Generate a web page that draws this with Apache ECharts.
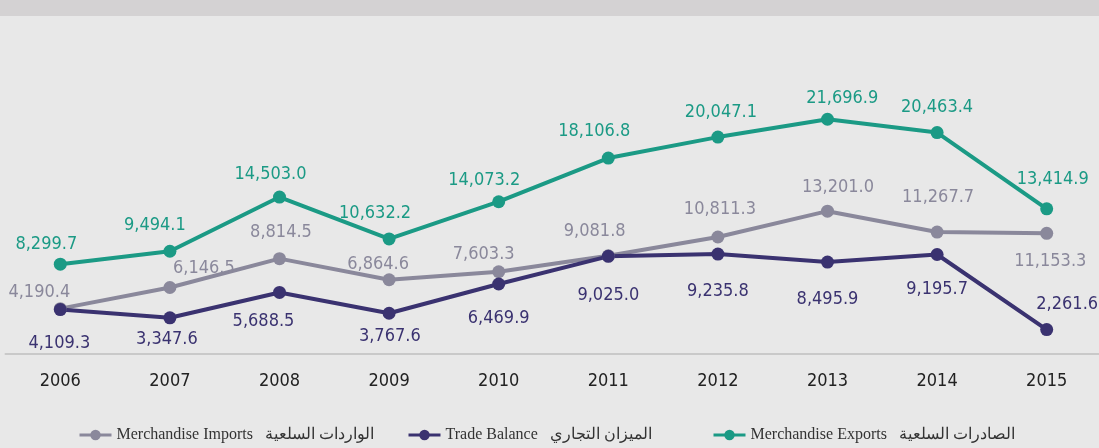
<!DOCTYPE html>
<html>
<head>
<meta charset="utf-8">
<script src="https://cdn.jsdelivr.net/npm/echarts@6/dist/echarts.min.js"></script>
<style>
html,body{margin:0;padding:0;background:#e8e8e8;}
#chart{width:1099px;height:448px;}
</style>
</head>
<body>
<div id="chart"></div>
<script>
// ---- data ----
const years = ['2006','2007','2008','2009','2010','2011','2012','2013','2014','2015'];
const exportsVals = [8299.7, 9494.1, 14503.0, 10632.2, 14073.2, 18106.8, 20047.1, 21696.9, 20463.4, 13414.9];
const importsVals = [4190.4, 6146.5, 8814.5, 6864.6, 7603.3, 9081.8, 10811.3, 13201.0, 11267.7, 11153.3];
const balanceVals = [4109.3, 3347.6, 5688.5, 3767.6, 6469.9, 9025.0, 9235.8, 8495.9, 9195.7, 2261.6];
const impName = 'Merchandise Imports   الواردات السلعية';
const balName = 'Trade Balance   الميزان التجاري';
const expName = 'Merchandise Exports   الصادرات السلعية';

// ---- label placement (layout only) ----
const expOff = [[-14,-20],[-15,-26],[-9,-22.5],[-14,-25.7],[-14.5,-21.5],[-14,-27],[3,-25],[14.7,-21],[0,-25],[6,-30]];
const impOff = [[-21,-16],[34,-19],[1.5,-26],[-11,-15],[-15,-17],[-13.6,-24],[2,-28],[10.5,-24],[1,-34.5],[3.6,28]];
const balOff = [[-1,34],[-3,22],[-16,29],[0.7,23],[0,34.5],[0,39],[0,37],[0,37],[0,35],[20.5,-25]];

const C_EXP = '#1b9a85', C_IMP = '#8a889b', C_BAL = '#3a3270';
const numFont = "'DejaVu Sans Condensed', 'Liberation Sans', sans-serif";

function fmt(v){ return v.toLocaleString('en-US',{minimumFractionDigits:1, maximumFractionDigits:1}); }

function mkSeries(name, vals, offs, color){
  return {
    name: name, type: 'line', data: vals.map((v,i)=>({
      value: v,
      label: { offset: offs[i] }
    })),
    symbol: 'circle', symbolSize: 13,
    lineStyle: { color: color, width: 4 },
    itemStyle: { color: color },
    label: {
      show: true, position: 'inside', align: 'center', verticalAlign: 'middle',
      color: color, fontSize: 18, fontFamily: numFont,
      formatter: p => fmt(p.value)
    },
    emphasis: { disabled: true }
  };
}

const chart = echarts.init(document.getElementById('chart'), null, {renderer:'canvas'});
const legendBase = {
  top: 427, padding: 0, itemWidth: 32, itemHeight: 13,
  lineStyle: { width: 3 },
  textStyle: { fontFamily: "'Liberation Serif', 'DejaVu Serif', serif", fontSize: 16, color: '#333' }
};
chart.setOption({
  animation: false,
  backgroundColor: '#e8e8e8',
  graphic: [{ type: 'rect', left: 0, top: 0, shape: { width: 1099, height: 16 }, style: { fill: '#d4d2d3' }, silent: true }],
  grid: { left: 5.5, right: -2.5, top: 83.5, bottom: 94, containLabel: false, outerBoundsMode: 'none' },
  legend: [
    Object.assign({ data: [impName], left: 78 }, legendBase),
    Object.assign({ data: [balName], left: 407 }, legendBase),
    Object.assign({ data: [expName], left: 712 }, legendBase)
  ],
  xAxis: {
    type: 'category', data: years, boundaryGap: true,
    axisLine: { lineStyle: { color: '#c9c9c9', width: 2 } },
    axisTick: { alignWithLabel: true, length: 6, lineStyle: { color: '#c9c9c9', width: 1 } },
    axisLabel: { fontSize: 18, color: '#222', margin: 18, fontFamily: numFont }
  },
  yAxis: { type: 'value', min: 0, max: 25000, show: false, splitLine: { show: false } },
  series: [
    mkSeries(impName, importsVals, impOff, C_IMP),
    mkSeries(expName, exportsVals, expOff, C_EXP),
    mkSeries(balName, balanceVals, balOff, C_BAL)
  ]
});
</script>
</body>
</html>
